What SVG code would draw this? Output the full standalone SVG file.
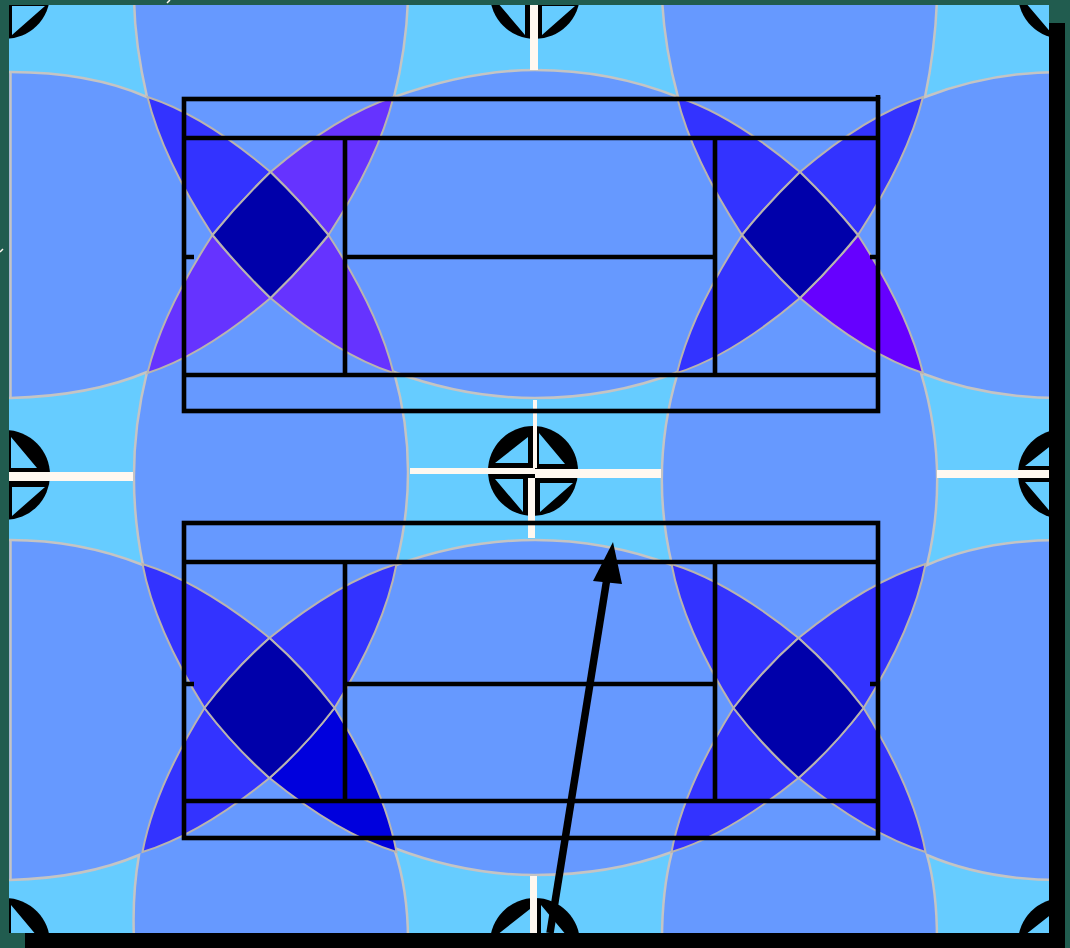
<svg xmlns="http://www.w3.org/2000/svg" width="1070" height="948" viewBox="0 0 1070 948">
<style>
.patch{fill:#66ccff;stroke:#c4c4c4;stroke-width:2.5}
.arm,.dia{stroke:#b9b4b0;stroke-width:2}
.bar{fill:#fff8f0}
.court{fill:none;stroke:#000;stroke-width:4.6}
</style>
<defs>
<path id="armA" class="arm" d="M-123,-138Q-67,-120 0,-63Q-31,-33 -58,0Q-108,-77 -123,-138Z"/>
<path id="diaA" class="dia" fill="#0000aa" d="M0,-63Q31,-33 58,0Q31,33 0,63Q-31,33 -58,0Q-31,-33 0,-63Z"/>
<path id="armB" class="arm" d="M-127,-144Q-69,-126 0,-70Q-36,-38 -65,0Q-115,-80 -127,-144Z"/>
<path id="diaB" class="dia" fill="#0000aa" d="M0,-70Q36,-38 65,0Q36,38 0,70Q-36,38 -65,0Q-36,-38 0,-70Z"/>
<g id="target">
<circle r="45" fill="#000"/>
<path fill="#66ccff" d="M-5,-34V-8H-38ZM6,-38V-7H32ZM-38,8H-10V41ZM7,12H40L7,41Z"/>
</g>
</defs>
<rect width="1070" height="948" fill="#6699ff"/>
<path class="patch" d="M0,72L10,72Q90,72 147,97Q135,45 134,0L0,0Z"/>
<path class="patch" d="M408,0Q406,50 394,97Q470,70 535,70Q610,70 678,97Q665,50 662,0Z"/>
<path class="patch" d="M937,0Q935,50 925,97Q990,72 1060,72L1060,0Z"/>
<path class="patch" d="M0,398L10,398Q90,396 147,372Q123,468 143,565Q80,540 10,540L0,540Z"/>
<path class="patch" d="M394,372Q465,398 535,398Q610,398 678,372Q649,468 672,565Q605,540 535,540Q465,540 396,565Q421,468 394,372Z"/>
<path class="patch" d="M921,373Q985,398 1060,398L1060,540Q985,540 927,565Q950,470 921,373Z"/>
<path class="patch" d="M0,880L10,880Q85,878 139,855Q132,895 134,940L0,940Z"/>
<path class="patch" d="M394,848Q465,875 535,875Q610,875 672,852Q662,890 662,940L408,940Q408,890 394,848Z"/>
<path class="patch" d="M927,855Q985,880 1060,880L1060,940L937,940Q937,890 927,855Z"/>
<path d="M10.5,72V398M10.5,540V880" fill="none" stroke="#c4c4c4" stroke-width="2.5"/>
<g id="targets">
<use href="#target" x="533" y="471"/>
<use href="#target" x="5" y="475"/>
<use href="#target" x="1063" y="474"/>
<use href="#target" x="5" y="-6"/>
<use href="#target" x="535" y="-6"/>
<use href="#target" x="1063" y="-6"/>
<use href="#target" x="5" y="943"/>
<use href="#target" x="535" y="943"/>
<use href="#target" x="1063" y="943"/>
</g>
<g id="bars">
<rect class="bar" x="410" y="468" width="125" height="6"/>
<rect class="bar" x="535" y="469" width="126" height="9"/>
<rect class="bar" x="533" y="400" width="4" height="68"/>
<rect class="bar" x="528" y="478" width="7" height="60"/>
<rect class="bar" x="9" y="472" width="124" height="9"/>
<rect class="bar" x="937" y="470" width="112" height="8"/>
<rect class="bar" x="530" y="5" width="8" height="65"/>
<rect class="bar" x="530" y="876" width="7" height="57"/>
</g>
<g id="star1" transform="translate(270.5,235)">
<use href="#armA" fill="#3333ff"/>
<use href="#armA" fill="#6633ff" transform="scale(-1,1)"/>
<use href="#armA" fill="#6633ff" transform="scale(1,-1)"/>
<use href="#armA" fill="#6633ff" transform="scale(-1,-1)"/>
<use href="#diaA"/>
</g>
<g id="star2" transform="translate(800,235)">
<use href="#armA" fill="#3333ff"/>
<use href="#armA" fill="#3333ff" transform="scale(-1,1)"/>
<use href="#armA" fill="#3333ff" transform="scale(1,-1)"/>
<use href="#armA" fill="#6600ff" transform="scale(-1,-1)"/>
<use href="#diaA"/>
</g>
<g id="star3" transform="translate(269.5,708)">
<use href="#armB" fill="#3333ff"/>
<use href="#armB" fill="#3333ff" transform="scale(-1,1)"/>
<use href="#armB" fill="#3333ff" transform="scale(1,-1)"/>
<use href="#armB" fill="#0000dd" transform="scale(-1,-1)"/>
<use href="#diaB"/>
</g>
<g id="star4" transform="translate(798.5,708)">
<use href="#armB" fill="#3333ff"/>
<use href="#armB" fill="#3333ff" transform="scale(-1,1)"/>
<use href="#armB" fill="#3333ff" transform="scale(1,-1)"/>
<use href="#armB" fill="#3333ff" transform="scale(-1,-1)"/>
<use href="#diaB"/>
</g>
<g id="court-top" class="court">
<rect x="184" y="99" width="694" height="312"/>
<path d="M184,138H878M184,375H878M345,138V375M715,138V375M345,257H715M184,257H194M870,257H878M878,95V99"/>
</g>
<g id="court-bottom" class="court">
<rect x="184" y="523" width="694" height="315"/>
<path d="M184,562H878M184,801H878M345,562V801M715,562V801M345,684H715M184,684H194M870,684H878"/>
</g>
<g id="frame">
<rect x="0" y="0" width="1070" height="5" fill="#215c4f"/>
<rect x="0" y="0" width="9" height="948" fill="#215c4f"/>
<rect x="1049" y="0" width="21" height="948" fill="#215c4f"/>
<rect x="9" y="933" width="1061" height="15" fill="#215c4f"/>
<rect x="1049" y="23" width="16" height="925" fill="#000"/>
<rect x="25" y="933" width="1040" height="15" fill="#000"/>
<path d="M167,3L170,0M0,252L3,249" stroke="#fff8f0" stroke-width="1.5"/>
</g>
<g id="connectors">
<path d="M550,933L607,578" fill="none" stroke="#000" stroke-width="7.5"/>
<path d="M613,542L622,584L593,581Z" fill="#000"/>
</g>
</svg>
